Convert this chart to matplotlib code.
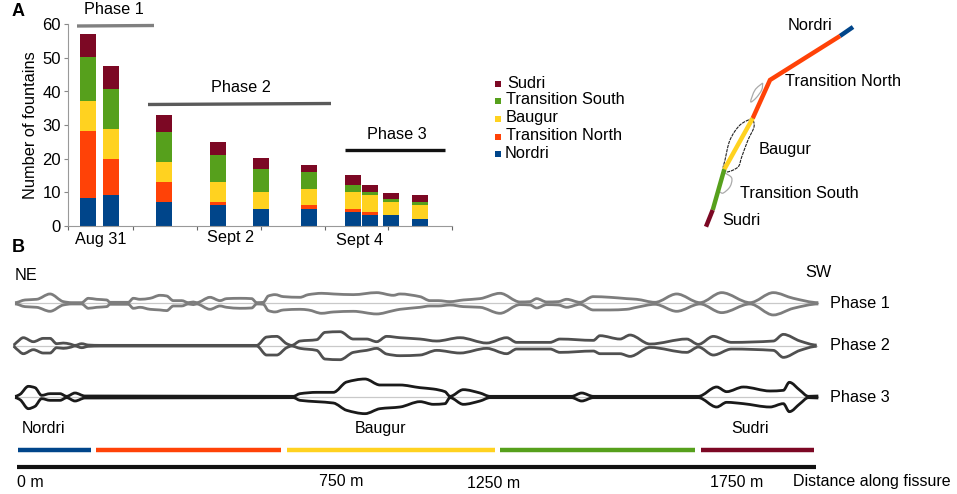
import numpy as np
import matplotlib
matplotlib.use('Agg')
import matplotlib.pyplot as plt
from matplotlib.path import Path
from matplotlib.patches import PathPatch

plt.rcParams['font.family'] = ['Liberation Sans', 'DejaVu Sans']

W, H = 957, 494

# Panel A data
bar_x = [88, 111, 164, 218, 261, 309, 353, 370, 391, 420]
nordri = [8.3, 9, 7, 6, 5, 5, 4, 3, 3, 2]
trans_north = [20, 10.8, 6, 1, 0, 1, 1, 1, 0, 0]
baugur = [9, 9, 6, 6, 5, 5, 5, 5, 4, 4]
trans_south = [13, 12, 9, 8, 7, 5, 2, 1, 1, 1]
sudri = [7, 6.8, 5, 4, 3, 2, 3, 2, 1.6, 2]
series = [nordri, trans_north, baugur, trans_south, sudri]
names = ['Nordri', 'Transition North', 'Baugur', 'Transition South', 'Sudri']
colors = ['#00458a', '#ff4207', '#ffd220', '#56a01c', '#7c0824']
tick_px = [68, 133, 197, 261, 325, 388, 452]

# Panel B data: along-fissure position, half width above and below the centre line
p1_x = [45, 75, 110, 150, 190, 215, 245, 265, 290, 320, 330, 385, 400, 420, 450, 480, 500, 520, 545, 565, 580, 590, 630, 660, 680, 720, 755, 770, 790, 805, 825, 850, 900, 925, 965, 1000, 1060, 1130, 1180, 1200, 1260, 1290, 1315, 1350, 1390, 1440, 1500, 1560, 1590, 1610, 1640, 1675, 1700, 1740, 1780, 1830, 1880, 1910, 1965, 2030, 2100, 2165, 2250, 2320, 2380, 2455]
p1_up = [2, 10, 12, 28, 5, 2, 2, 15, 12, 10, 3, 3, 15, 12, 15, 24, 22, 8, 8, 2, 4, 2, 18, 8, 14, 15, 14, 2, 3, 22, 26, 20, 18, 26, 30, 28, 26, 32, 24, 28, 20, 8, 8, 5, 10, 14, 30, 4, 5, 14, 4, 5, 12, 3, 20, 18, 14, 12, 3, 28, 2, 32, 2, 32, 15, 2]
p1_lo = [2, 10, 12, 24, 5, 2, 2, 15, 12, 10, 3, 3, 15, 12, 18, 20, 22, 8, 8, 2, 4, 2, 18, 8, 12, 15, 14, 2, 3, 22, 26, 20, 18, 20, 30, 26, 24, 32, 22, 18, 12, 8, 8, 5, 10, 12, 30, 4, 5, 14, 4, 5, 12, 3, 20, 20, 18, 12, 3, 24, 2, 28, 2, 35, 15, 2]

p2_x = [40, 50, 70, 100, 130, 150, 170, 190, 210, 225, 245, 265, 300, 770, 800, 830, 860, 875, 900, 950, 975, 1020, 1060, 1100, 1130, 1160, 1200, 1260, 1310, 1380, 1460, 1520, 1550, 1650, 1680, 1780, 1800, 1860, 1890, 1950, 2060, 2095, 2140, 2195, 2320, 2350, 2400, 2450]
p2_up = [2, 10, 24, 12, 22, 22, 6, 8, 5, 1, 6, 2, 1, 1, 26, 28, 6, 1, 14, 18, 40, 42, 20, 20, 12, 28, 24, 20, 14, 24, 8, 24, 10, 10, 20, 16, 30, 20, 32, 5, 20, 4, 28, 10, 14, 34, 14, 2]
p2_lo = [2, 10, 24, 12, 22, 22, 6, 8, 5, 1, 6, 2, 1, 1, 28, 28, 6, 1, 8, 14, 40, 42, 20, 14, 8, 25, 30, 28, 14, 22, 8, 24, 10, 10, 20, 16, 24, 24, 32, 5, 20, 4, 28, 10, 14, 35, 14, 2]

p3_x = [45, 60, 85, 105, 125, 150, 180, 200, 225, 255, 290, 880, 900, 950, 1000, 1040, 1095, 1140, 1200, 1260, 1300, 1335, 1350, 1390, 1440, 1470, 1715, 1745, 1780, 2095, 2150, 2180, 2230, 2310, 2350, 2368, 2400, 2425, 2455]
p3_up = [2, 8, 32, 28, 5, 10, 10, 2, 12, 3, 3, 2, 10, 14, 14, 45, 54, 36, 36, 28, 24, 16, 2, 22, 12, 2, 2, 12, 2, 2, 30, 16, 30, 18, 20, 44, 20, 2, 3]
p3_lo = [2, 8, 35, 28, 5, 10, 10, 2, 12, 3, 3, 2, 10, 14, 18, 40, 50, 35, 30, 14, 22, 20, 2, 22, 12, 2, 2, 12, 2, 2, 30, 16, 20, 30, 20, 44, 20, 2, 3]

phase_names = ['Phase 1', 'Phase 2', 'Phase 3']
phase_rows = [303.3, 345.7, 397]
phase_grays = ['#7d7d7d', '#505050', '#1a1a1a']
phase_profiles = [(p1_x, p1_up, p1_lo), (p2_x, p2_up, p2_lo), (p3_x, p3_up, p3_lo)]

# Segments along the fissure, start and end
seg_start = [18, 96, 287, 500, 701]
seg_end = [91, 281, 495, 695, 814]

# Map of the fissure
map_x = [[853, 840], [840, 770, 752.7], [752.7, 724.3], [724.3, 712.7], [712.7, 706]]
map_y = [[27, 36], [36, 80, 118.3], [118.3, 169.3], [169.3, 210], [210, 226.7]]
baugur_x = [752.7, 740, 730, 725, 723.3, 727, 738, 741.7, 748, 754, 752.7]
baugur_y = [118, 125, 140, 160, 168, 172, 167, 157, 140, 127, 118]
loop1_x = [762.7, 755, 750.7, 756, 761.7, 762.7]
loop1_y = [83, 90, 101.7, 98, 90, 83]
loop2_x = [725, 731.7, 730, 723.3, 720]
loop2_y = [173, 178, 186.7, 193, 192]


def smooth_path(x, y):
    # bezier through the points, for the thin outlines on the map
    x = np.asarray(x, float)
    y = np.asarray(y, float)
    verts = [(x[0], y[0])]
    codes = [Path.MOVETO]
    for i in range(len(x) - 1):
        i0 = max(i - 1, 0)
        i3 = min(i + 2, len(x) - 1)
        verts.append((x[i] + (x[i + 1] - x[i0]) / 6, y[i] + (y[i + 1] - y[i0]) / 6))
        verts.append((x[i + 1] - (x[i3] - x[i]) / 6, y[i + 1] - (y[i3] - y[i]) / 6))
        verts.append((x[i + 1], y[i + 1]))
        codes += [Path.CURVE4] * 3
    return Path(verts, codes)


def profile_path(x, y):
    # same idea but flat at the peaks, so x never runs backwards and nothing overshoots
    x = np.asarray(x, float)
    y = np.asarray(y, float)
    dx = np.diff(x)
    s = np.diff(y) / dx
    m = np.zeros(len(x))
    for i in range(1, len(x) - 1):
        if s[i - 1] * s[i] > 0:
            m[i] = 2 * s[i - 1] * s[i] / (s[i - 1] + s[i])
    verts = [(x[0], y[0])]
    codes = [Path.MOVETO]
    for i in range(len(x) - 1):
        verts.append((x[i] + dx[i] / 3, y[i] + m[i] * dx[i] / 3))
        verts.append((x[i + 1] - dx[i] / 3, y[i + 1] - m[i + 1] * dx[i] / 3))
        verts.append((x[i + 1], y[i + 1]))
        codes += [Path.CURVE4] * 3
    return Path(verts, codes)


fig = plt.figure(figsize=(W / 100, H / 100), dpi=100)

# Overlay in image coordinates for the annotations and panel B
ov = fig.add_axes([0, 0, 1, 1])
ov.set_xlim(0, W)
ov.set_ylim(H, 0)
ov.axis('off')

# Panel A
ax = fig.add_axes([68 / W, 1 - 225.5 / H, (452 - 68) / W, (225.5 - 24.5) / H])
ax.set_xlim(68, 452)
ax.set_ylim(0, 60)
ax.patch.set_alpha(0)
bottom = np.zeros(len(bar_x))
for s, c, n in zip(series, colors, names):
    ax.bar(bar_x, s, width=15.5, bottom=bottom, color=c, label=n)
    bottom += np.array(s)
ax.set_xticks(tick_px)
ax.set_xticklabels([])
ax.set_yticks(range(0, 61, 10))
ax.tick_params(axis='y', labelsize=12, length=3, width=0.8, color='#888888', pad=2)
ax.tick_params(axis='x', length=3, width=0.8, color='#666666', direction='out')
ax.spines['top'].set_visible(False)
ax.spines['right'].set_visible(False)
ax.spines['left'].set_color('#999999')
ax.spines['bottom'].set_color('#999999')
ax.set_ylabel('Number of fountains', fontsize=11.8, labelpad=3)

ov.text(12, 11, 'A', fontsize=13, fontweight='bold', ha='left', va='center')
ov.text(12, 247, 'B', fontsize=13, fontweight='bold', ha='left', va='center')
ov.text(101, 239, 'Aug 31', fontsize=11.7, ha='center', va='center')
ov.text(231, 237, 'Sept 2', fontsize=11.7, ha='center', va='center')
ov.text(360, 240, 'Sept 4', fontsize=11.7, ha='center', va='center')

# Phase bars above the columns
ov.plot([77, 154], [26, 25.5], color='#808080', lw=2.4, solid_capstyle='butt')
ov.plot([148, 331], [104.5, 103.5], color='#5a5a5a', lw=2.4, solid_capstyle='butt')
ov.plot([345, 445], [150.5, 150.5], color='#111111', lw=2.4, solid_capstyle='butt')
ov.text(114, 10, 'Phase 1', fontsize=11.7, ha='center', va='center')
ov.text(241, 88, 'Phase 2', fontsize=11.7, ha='center', va='center')
ov.text(397, 134, 'Phase 3', fontsize=11.7, ha='center', va='center')

# Legend, top entry first
legend_y = [84, 101, 119, 137, 154]
for name, c, y in zip(names[::-1], colors[::-1], legend_y):
    ov.plot([498], [y], marker='s', ms=3.8, color=c, mew=0)
for name, y, tx in zip(names[::-1], [83, 99, 117, 135, 153], [507, 506, 506, 506, 505]):
    ov.text(tx, y, name, fontsize=11.8, ha='left', va='center')

# Map
for mx, my, c in zip(map_x, map_y, colors):
    ov.plot(mx, my, color=c, lw=3.2, solid_capstyle='butt', solid_joinstyle='miter')
ov.add_patch(PathPatch(smooth_path(baugur_x, baugur_y), fc='none', ec='#222222', lw=0.8, ls=(0, (3, 0.8))))
ov.add_patch(PathPatch(smooth_path(loop1_x, loop1_y), fc='none', ec='#aaaaaa', lw=0.9))
ov.add_patch(PathPatch(smooth_path(loop2_x, loop2_y), fc='none', ec='#aaaaaa', lw=0.9))
ov.text(788, 26, 'Nordri', fontsize=11.8, ha='left', va='center')
ov.text(785, 82, 'Transition North', fontsize=11.8, ha='left', va='center')
ov.text(759, 149, 'Baugur', fontsize=11.8, ha='left', va='center')
ov.text(740, 193, 'Transition South', fontsize=11.8, ha='left', va='center')
ov.text(722, 220, 'Sudri', fontsize=11.8, ha='left', va='center')

# Panel B
ov.text(15, 275, 'NE', fontsize=11.7, ha='left', va='center')
ov.text(805, 272, 'SW', fontsize=11.7, ha='left', va='center')
for name, row, gray, (px, up, lo) in zip(phase_names, phase_rows, phase_grays, phase_profiles):
    xs = np.array(px) / 3
    ov.plot([xs[0], xs[-1]], [row, row], color='#c9c9c9', lw=0.9, zorder=1)
    for sign, half in ((-1, up), (1, lo)):
        ys = row + sign * np.array(half) / 3
        ov.add_patch(PathPatch(profile_path(xs, ys), fc='none', ec=gray, lw=2.0, zorder=2))
    ov.text(830, row, name, fontsize=11.7, ha='left', va='center')

ov.text(22, 428, 'Nordri', fontsize=11.5, ha='left', va='center')
ov.text(381, 428, 'Baugur', fontsize=11.5, ha='center', va='center')
ov.text(750, 428, 'Sudri', fontsize=11.5, ha='center', va='center')
for a, b, c in zip(seg_start, seg_end, colors):
    ov.plot([a, b], [450, 450], color=c, lw=3.2, solid_capstyle='butt')
ov.plot([17, 816], [466.5, 466.5], color='#111111', lw=3.0, solid_capstyle='butt')
ov.text(17, 482, '0 m', fontsize=11.5, ha='left', va='center')
ov.text(319, 481, '750 m', fontsize=11.5, ha='left', va='center')
ov.text(467, 483, '1250 m', fontsize=11.5, ha='left', va='center')
ov.text(710, 482, '1750 m', fontsize=11.5, ha='left', va='center')
ov.text(793, 481, 'Distance along fissure', fontsize=11.5, ha='left', va='center')

fig.savefig('out.png', dpi=100)
